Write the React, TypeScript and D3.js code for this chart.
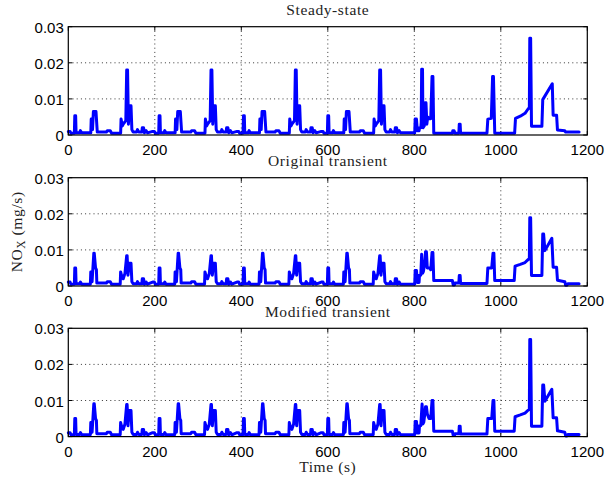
import React from "react";
import * as d3 from "d3";

const titles = ["Steady-state", "Original transient", "Modified transient"];
const xTicks = [0, 200, 400, 600, 800, 1000, 1200];
const yTicks = [0, 0.01, 0.02, 0.03];
const yTickLabels = ["0", "0.01", "0.02", "0.03"];

const steadyState: [number, number][] = [
  [0,.001],[4,.001],[6,.0005],[14,.0005],[15,.0053],[17,.0053],[18,.0006],[26,.0006],[28,.0012],[31,.0006],[52,.0006],[53,.0044],[56,.0015],[58,.0065],[64,.0065],[67,.0008],[88,.0008],[90,.0012],[97,.0012],[100,.0005],[121,.0005],[122,.0044],[125,.0025],[127,.003],[133,.004],[135,.018],[137,.018],[139,.003],[141,.0081],[145,.0081],[147,.0015],[150,.0008],[158,.0008],[160,.0015],[163,.0008],[170,.0008],[171,.002],[174,.002],[176,.0006],[180,.0012],[183,.0006],
  [195,.001],[199,.001],[201,.0005],[209,.0005],[210,.0053],[212,.0053],[213,.0006],[221,.0006],[223,.0012],[226,.0006],[247,.0006],[248,.0044],[251,.0015],[253,.0065],[259,.0065],[262,.0008],[283,.0008],[285,.0012],[292,.0012],[295,.0005],[316,.0005],[317,.0044],[320,.0025],[322,.003],[328,.004],[330,.018],[332,.018],[334,.003],[336,.0081],[340,.0081],[342,.0015],[345,.0008],[353,.0008],[355,.0015],[358,.0008],[365,.0008],[366,.002],[369,.002],[371,.0006],[375,.0012],[378,.0006],
  [390,.001],[394,.001],[396,.0005],[404,.0005],[405,.0053],[407,.0053],[408,.0006],[416,.0006],[418,.0012],[421,.0006],[442,.0006],[443,.0044],[446,.0015],[448,.0065],[454,.0065],[457,.0008],[478,.0008],[480,.0012],[487,.0012],[490,.0005],[511,.0005],[512,.0044],[515,.0025],[517,.003],[523,.004],[525,.018],[527,.018],[529,.003],[531,.0081],[535,.0081],[537,.0015],[540,.0008],[548,.0008],[550,.0015],[553,.0008],[560,.0008],[561,.002],[564,.002],[566,.0006],[570,.0012],[573,.0006],
  [585,.001],[589,.001],[591,.0005],[599,.0005],[600,.0053],[602,.0053],[603,.0006],[611,.0006],[613,.0012],[616,.0006],[637,.0006],[638,.0044],[641,.0015],[643,.0065],[649,.0065],[652,.0008],[673,.0008],[675,.0012],[682,.0012],[685,.0005],[706,.0005],[707,.0044],[710,.0025],[712,.003],[718,.004],[720,.018],[722,.018],[724,.003],[726,.0081],[730,.0081],[732,.0015],[735,.0008],[743,.0008],[745,.0015],[748,.0008],[755,.0008],[756,.002],[759,.002],[761,.0006],[765,.0012],[768,.0006],
  [780,.0006],[801,.0006],[802,.0044],[805,.0044],[807,.0012],[811,.0012],[812,.002],[815,.002],[816,.0035],[817,.0182],[819,.0182],[820,.002],[823,.0025],[825,.0089],[827,.0089],[829,.003],[831,.005],[835,.0045],[838,.0045],[841,.0162],[843,.0162],[845,.0005],[888,.0005],[889,.0012],[892,.0012],[894,.0005],[903,.0005],[904,.003],[906,.003],[907,.0005],[968,.0005],[970,.0044],[978,.0046],[981,.0162],[983,.0162],[986,.0005],[1032,.0005],[1034,.0046],[1045,.0052],[1056,.006],[1063,.0072],[1066,.0075],[1067,.0268],[1069,.0268],[1071,.0024],[1095,.0024],[1097,.0098],[1119,.0142],[1121,.0055],[1129,.0055],[1131,.0014],[1148,.0012],[1150,.0008],[1181,.0008],
];

const originalTransient: [number, number][] = [
  [0,.0011],[4,.0011],[6,.0005],[14,.0005],[15,.005],[17,.005],[18,.0006],[26,.0006],[28,.0011],[31,.0005],[51,.0005],[52,.0039],[55,.0012],[59,.0091],[60,.0091],[63,.005],[65,.0045],[66,.0008],[88,.0008],[90,.0012],[97,.0012],[100,.0005],[120,.0005],[121,.0039],[124,.0025],[127,.002],[131,.0035],[135,.0084],[136,.0084],[138,.003],[141,.0063],[145,.0063],[147,.0012],[150,.0006],[158,.0006],[160,.0012],[163,.0006],[170,.0006],[171,.002],[174,.002],[176,.0005],[180,.0011],[183,.0005],
  [195,.0011],[199,.0011],[201,.0005],[209,.0005],[210,.005],[212,.005],[213,.0006],[221,.0006],[223,.0011],[226,.0005],[246,.0005],[247,.0039],[250,.0012],[254,.0091],[255,.0091],[258,.005],[260,.0045],[261,.0008],[283,.0008],[285,.0012],[292,.0012],[295,.0005],[315,.0005],[316,.0039],[319,.0025],[322,.002],[326,.0035],[330,.0084],[331,.0084],[333,.003],[336,.0063],[340,.0063],[342,.0012],[345,.0006],[353,.0006],[355,.0012],[358,.0006],[365,.0006],[366,.002],[369,.002],[371,.0005],[375,.0011],[378,.0005],
  [390,.0011],[394,.0011],[396,.0005],[404,.0005],[405,.005],[407,.005],[408,.0006],[416,.0006],[418,.0011],[421,.0005],[441,.0005],[442,.0039],[445,.0012],[449,.0091],[450,.0091],[453,.005],[455,.0045],[456,.0008],[478,.0008],[480,.0012],[487,.0012],[490,.0005],[510,.0005],[511,.0039],[514,.0025],[517,.002],[521,.0035],[525,.0084],[526,.0084],[528,.003],[531,.0063],[535,.0063],[537,.0012],[540,.0006],[548,.0006],[550,.0012],[553,.0006],[560,.0006],[561,.002],[564,.002],[566,.0005],[570,.0011],[573,.0005],
  [585,.0011],[589,.0011],[591,.0005],[599,.0005],[600,.005],[602,.005],[603,.0006],[611,.0006],[613,.0011],[616,.0005],[636,.0005],[637,.0039],[640,.0012],[644,.0091],[645,.0091],[648,.005],[650,.0045],[651,.0008],[673,.0008],[675,.0012],[682,.0012],[685,.0005],[705,.0005],[706,.0039],[709,.0025],[712,.002],[716,.0035],[720,.0084],[721,.0084],[723,.003],[726,.0063],[730,.0063],[732,.0012],[735,.0006],[743,.0006],[745,.0012],[748,.0006],[755,.0006],[756,.002],[759,.002],[761,.0005],[765,.0011],[768,.0005],
  [780,.0005],[801,.0005],[802,.0043],[805,.0043],[807,.001],[811,.001],[812,.003],[815,.003],[817,.0088],[819,.0035],[821,.004],[824,.006],[826,.0095],[828,.0095],[830,.005],[836,.005],[838,.0045],[841,.0093],[843,.0093],[845,.0015],[888,.0015],[890,.0003],[893,.0003],[894,.0008],[903,.0008],[904,.0029],[906,.0029],[907,.0007],[968,.0007],[970,.005],[979,.005],[982,.0091],[984,.0091],[986,.0015],[1031,.0015],[1033,.0055],[1045,.006],[1056,.0065],[1063,.0073],[1066,.0075],[1067,.0189],[1069,.0189],[1071,.0029],[1095,.0029],[1097,.0144],[1099,.0144],[1102,.0098],[1118,.0132],[1121,.0052],[1129,.0052],[1131,.0016],[1148,.0012],[1150,.0002],[1153,.0002],[1155,.0006],[1181,.0006],
];

const modifiedTransient: [number, number][] = [
  [0,.0011],[4,.0011],[6,.0005],[14,.0005],[15,.005],[17,.005],[18,.0006],[26,.0006],[28,.0011],[31,.0005],[51,.0005],[52,.0039],[55,.0012],[59,.0091],[60,.0091],[63,.005],[65,.0045],[66,.0008],[88,.0008],[90,.0012],[97,.0012],[100,.0005],[120,.0005],[121,.0039],[124,.0025],[127,.002],[131,.0035],[135,.0089],[136,.0089],[138,.003],[141,.0072],[145,.0072],[147,.0012],[150,.0006],[158,.0006],[160,.0012],[163,.0006],[170,.0006],[171,.002],[174,.002],[176,.0005],[180,.0011],[183,.0005],
  [195,.0011],[199,.0011],[201,.0005],[209,.0005],[210,.005],[212,.005],[213,.0006],[221,.0006],[223,.0011],[226,.0005],[246,.0005],[247,.0039],[250,.0012],[254,.0091],[255,.0091],[258,.005],[260,.0045],[261,.0008],[283,.0008],[285,.0012],[292,.0012],[295,.0005],[315,.0005],[316,.0039],[319,.0025],[322,.002],[326,.0035],[330,.0089],[331,.0089],[333,.003],[336,.0072],[340,.0072],[342,.0012],[345,.0006],[353,.0006],[355,.0012],[358,.0006],[365,.0006],[366,.002],[369,.002],[371,.0005],[375,.0011],[378,.0005],
  [390,.0011],[394,.0011],[396,.0005],[404,.0005],[405,.005],[407,.005],[408,.0006],[416,.0006],[418,.0011],[421,.0005],[441,.0005],[442,.0039],[445,.0012],[449,.0091],[450,.0091],[453,.005],[455,.0045],[456,.0008],[478,.0008],[480,.0012],[487,.0012],[490,.0005],[510,.0005],[511,.0039],[514,.0025],[517,.002],[521,.0035],[525,.0089],[526,.0089],[528,.003],[531,.0072],[535,.0072],[537,.0012],[540,.0006],[548,.0006],[550,.0012],[553,.0006],[560,.0006],[561,.002],[564,.002],[566,.0005],[570,.0011],[573,.0005],
  [585,.0011],[589,.0011],[591,.0005],[599,.0005],[600,.005],[602,.005],[603,.0006],[611,.0006],[613,.0011],[616,.0005],[636,.0005],[637,.0039],[640,.0012],[644,.0091],[645,.0091],[648,.005],[650,.0045],[651,.0008],[673,.0008],[675,.0012],[682,.0012],[685,.0005],[705,.0005],[706,.0039],[709,.0025],[712,.002],[716,.0035],[720,.0089],[721,.0089],[723,.003],[726,.0072],[730,.0072],[732,.0012],[735,.0006],[743,.0006],[745,.0012],[748,.0006],[755,.0006],[756,.002],[759,.002],[761,.0005],[765,.0011],[768,.0005],
  [780,.0005],[801,.0005],[802,.0042],[805,.0042],[807,.001],[811,.001],[812,.003],[815,.003],[818,.009],[820,.0035],[822,.004],[824,.006],[826,.0083],[828,.0083],[830,.0063],[834,.005],[838,.005],[841,.01],[843,.01],[845,.0015],[888,.0015],[890,.0003],[893,.0003],[894,.0008],[903,.0008],[904,.0029],[906,.0029],[907,.0007],[968,.0007],[970,.005],[979,.005],[982,.01],[984,.01],[986,.0015],[1031,.0015],[1033,.0055],[1045,.006],[1056,.0065],[1063,.0073],[1066,.0075],[1067,.0269],[1069,.0269],[1071,.0029],[1095,.0029],[1097,.0143],[1099,.0143],[1102,.0098],[1118,.0131],[1121,.0052],[1129,.0052],[1131,.0016],[1148,.0012],[1150,.0002],[1153,.0002],[1155,.0006],[1181,.0006],
];

const seriesList = [steadyState, originalTransient, modifiedTransient];

const W = 606;
const H = 484;
const LEFT = 68.3;
const RIGHT = 587.3;
const TOPS = [26.7, 177.7, 328.3];
const PH = 108.3;

const serif = "'Liberation Serif', 'Times New Roman', serif";
const sans = "'Liberation Sans', Arial, Helvetica, sans-serif";

function Panel({ top, title, data }: { top: number; title: string; data: [number, number][] }) {
  const x = d3.scaleLinear().domain([0, 1200]).range([LEFT, RIGHT]);
  const y = d3.scaleLinear().domain([0, 0.03]).range([top + PH, top]);
  const line = d3
    .line<[number, number]>()
    .x((d) => x(d[0]))
    .y((d) => y(d[1]));
  const bottom = top + PH;
  const tl = 4;
  return (
    <g>
      {/* grid */}
      {xTicks.slice(1, -1).map((t) => (
        <line key={"gx" + t} x1={x(t)} x2={x(t)} y1={top} y2={bottom} stroke="#000" strokeWidth={0.8} strokeDasharray="1,3.2" />
      ))}
      {yTicks.slice(1, -1).map((t) => (
        <line key={"gy" + t} x1={LEFT} x2={RIGHT} y1={y(t)} y2={y(t)} stroke="#000" strokeWidth={0.8} strokeDasharray="1,3.2" />
      ))}
      {/* ticks */}
      {xTicks.map((t) => (
        <g key={"tx" + t}>
          <line x1={x(t)} x2={x(t)} y1={bottom} y2={bottom - tl} stroke="#000" strokeWidth={1} />
          <line x1={x(t)} x2={x(t)} y1={top} y2={top + tl} stroke="#000" strokeWidth={1} />
          <text x={x(t)} y={bottom + 20} textAnchor="middle" fontFamily={sans} fontSize={15} fill="#000">
            {t}
          </text>
        </g>
      ))}
      {yTicks.map((t, i) => (
        <g key={"ty" + t}>
          <line x1={LEFT} x2={LEFT + tl} y1={y(t)} y2={y(t)} stroke="#000" strokeWidth={1} />
          <line x1={RIGHT} x2={RIGHT - tl} y1={y(t)} y2={y(t)} stroke="#000" strokeWidth={1} />
          <text x={LEFT - 4.5} y={y(t) + 6} textAnchor="end" fontFamily={sans} fontSize={15} fill="#000">
            {yTickLabels[i]}
          </text>
        </g>
      ))}
      {/* data */}
      <path d={line(data) || ""} fill="none" stroke="#0000ff" strokeWidth={3} strokeLinejoin="round" strokeLinecap="round" />
      {/* box */}
      <rect x={LEFT} y={top} width={RIGHT - LEFT} height={PH} fill="none" stroke="#000" strokeWidth={1.2} />
      <text x={(LEFT + RIGHT) / 2} y={top - 11.5} textAnchor="middle" fontFamily={serif} fontSize={15.5} letterSpacing={0.6} fill="#222">
        {title}
      </text>
    </g>
  );
}

export default function App() {
  const midY = TOPS[1] + PH / 2;
  return (
    <svg width={W} height={H} viewBox={`0 0 ${W} ${H}`} style={{ position: "absolute", left: 0, top: 0, background: "#fff" }}>
      <rect x={0} y={0} width={W} height={H} fill="#fff" />
      {TOPS.map((t, i) => (
        <Panel key={i} top={t} title={titles[i]} data={seriesList[i]} />
      ))}
      <text x={(LEFT + RIGHT) / 2} y={472} textAnchor="middle" fontFamily={serif} fontSize={15.5} letterSpacing={0.6} fill="#222">
        Time (s)
      </text>
      <text transform={`translate(22,${midY}) rotate(-90)`} textAnchor="middle" fontFamily={serif} fontSize={15.5} letterSpacing={0.6} fill="#222">
        NO
        <tspan fontSize={11.5} dy={3}>X</tspan>
        <tspan dy={-3}> (mg/s)</tspan>
      </text>
    </svg>
  );
}
